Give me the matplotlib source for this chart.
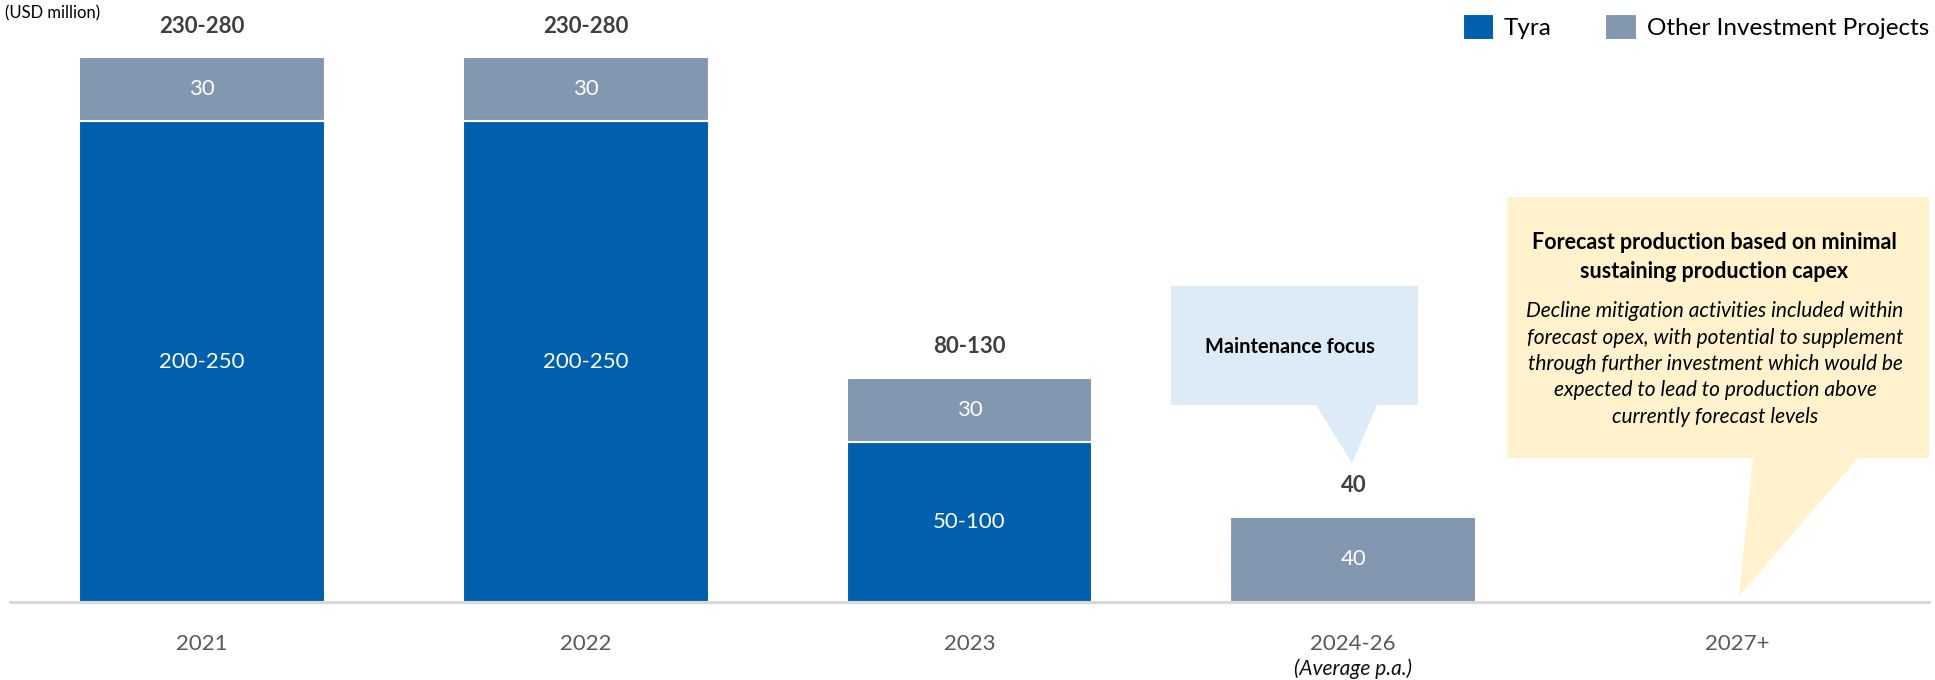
import matplotlib
matplotlib.use("Agg")
import numpy as np
from matplotlib import pyplot as plt
from matplotlib.patches import Polygon

plt.rcParams["font.family"] = ["Lato", "DejaVu Sans"]

# data (USD million), range midpoints used for bar heights
periods = ["2021", "2022", "2023", "2024-26", "2027+"]
tyra = [225, 225, 75, 0, 0]
other = [30, 30, 30, 40, 0]
tyra_labels = ["200-250", "200-250", "50-100", "", ""]
other_labels = ["30", "30", "30", "40", ""]
total_labels = ["230-280", "230-280", "80-130", "40", ""]

W, H = 1935, 680
TYRA_COL = "#0060AE"
OTHER_COL = "#8497B0"


def px(x, y):
    # pixel (top-left origin) -> figure fraction
    return x / W, 1 - y / H


fig = plt.figure(figsize=(W / 100, H / 100), dpi=100)
ax = fig.add_axes([10 / W, 78 / H, 1919 / W, 602 / H])
ax.set_xlim(-0.5, 4.5)
ax.set_ylim(0, 602 / 2.137)

x = np.arange(len(periods))
b1 = ax.bar(x, tyra, width=0.64, color=TYRA_COL, edgecolor="white", linewidth=1.5, label="Tyra")
b2 = ax.bar(x, other, width=0.64, bottom=tyra, color=OTHER_COL, edgecolor="white", linewidth=1.5,
            label="Other Investment Projects")

for i in range(len(periods)):
    if tyra_labels[i]:
        ax.text(i, tyra[i] / 2, tyra_labels[i], ha="center", va="center", color="white", fontsize=16)
    if other_labels[i]:
        ax.text(i, tyra[i] + other[i] / 2, other_labels[i], ha="center", va="center", color="white",
                fontsize=16)
    if total_labels[i]:
        ax.annotate(total_labels[i], xy=(i, tyra[i] + other[i]), xytext=(0, 31), textcoords="offset pixels",
                    ha="center", va="center", fontsize=16, fontweight="bold", color="#404040")

ax.axhline(0, color="#D9D9D9", linewidth=2.2, clip_on=False)
for s in ax.spines.values():
    s.set_visible(False)
ax.set_yticks([])
ax.set_xticks(x)
ax.set_xticklabels(periods, fontsize=16, color="#595959")
ax.tick_params(axis="x", length=0, pad=23)
ax.annotate("(Average p.a.)", xy=(3, 0), xytext=(0, -67), textcoords="offset pixels", ha="center",
            va="center", fontsize=15, style="italic", color="#111111")

fig.text(*px(5, 13), "(USD million)", ha="left", va="center", fontsize=12, color="black")

# callouts
blue_box = [(1171, 286), (1418, 286), (1418, 405), (1377, 405), (1352, 463), (1316, 405), (1171, 405)]
fig.patches.append(Polygon([px(*p) for p in blue_box], closed=True, transform=fig.transFigure,
                           facecolor="#DDEBF7", edgecolor="none"))
fig.text(*px(1290, 347), "Maintenance focus", ha="center", va="center", fontsize=14.4,
         fontweight="bold", color="black")

yellow_box = [(1507, 197), (1929, 197), (1929, 458), (1858, 458), (1739, 596), (1753, 458), (1507, 458)]
fig.patches.append(Polygon([px(*p) for p in yellow_box], closed=True, transform=fig.transFigure,
                           facecolor="#FFF2CC", edgecolor="none"))
fig.text(*px(1714, 257), "Forecast production based on minimal\nsustaining production capex",
         ha="center", va="center", fontsize=15.5, fontweight="bold", color="black", linespacing=1.42)
fig.text(*px(1715, 364),
         "Decline mitigation activities included within\nforecast opex, with potential to supplement\n"
         "through further investment which would be\nexpected to lead to production above\n"
         "currently forecast levels",
         ha="center", va="center", fontsize=15, style="italic", color="black", linespacing=1.4)

fig.legend(handles=[b1, b2], loc="upper right", bbox_to_anchor=px(1929, 14), ncol=2, frameon=False,
           fontsize=17.5, handlelength=1.3, handleheight=1.3, handletextpad=0.4, columnspacing=2.2,
           borderaxespad=0, borderpad=0)

fig.savefig("out.png", dpi=100)
